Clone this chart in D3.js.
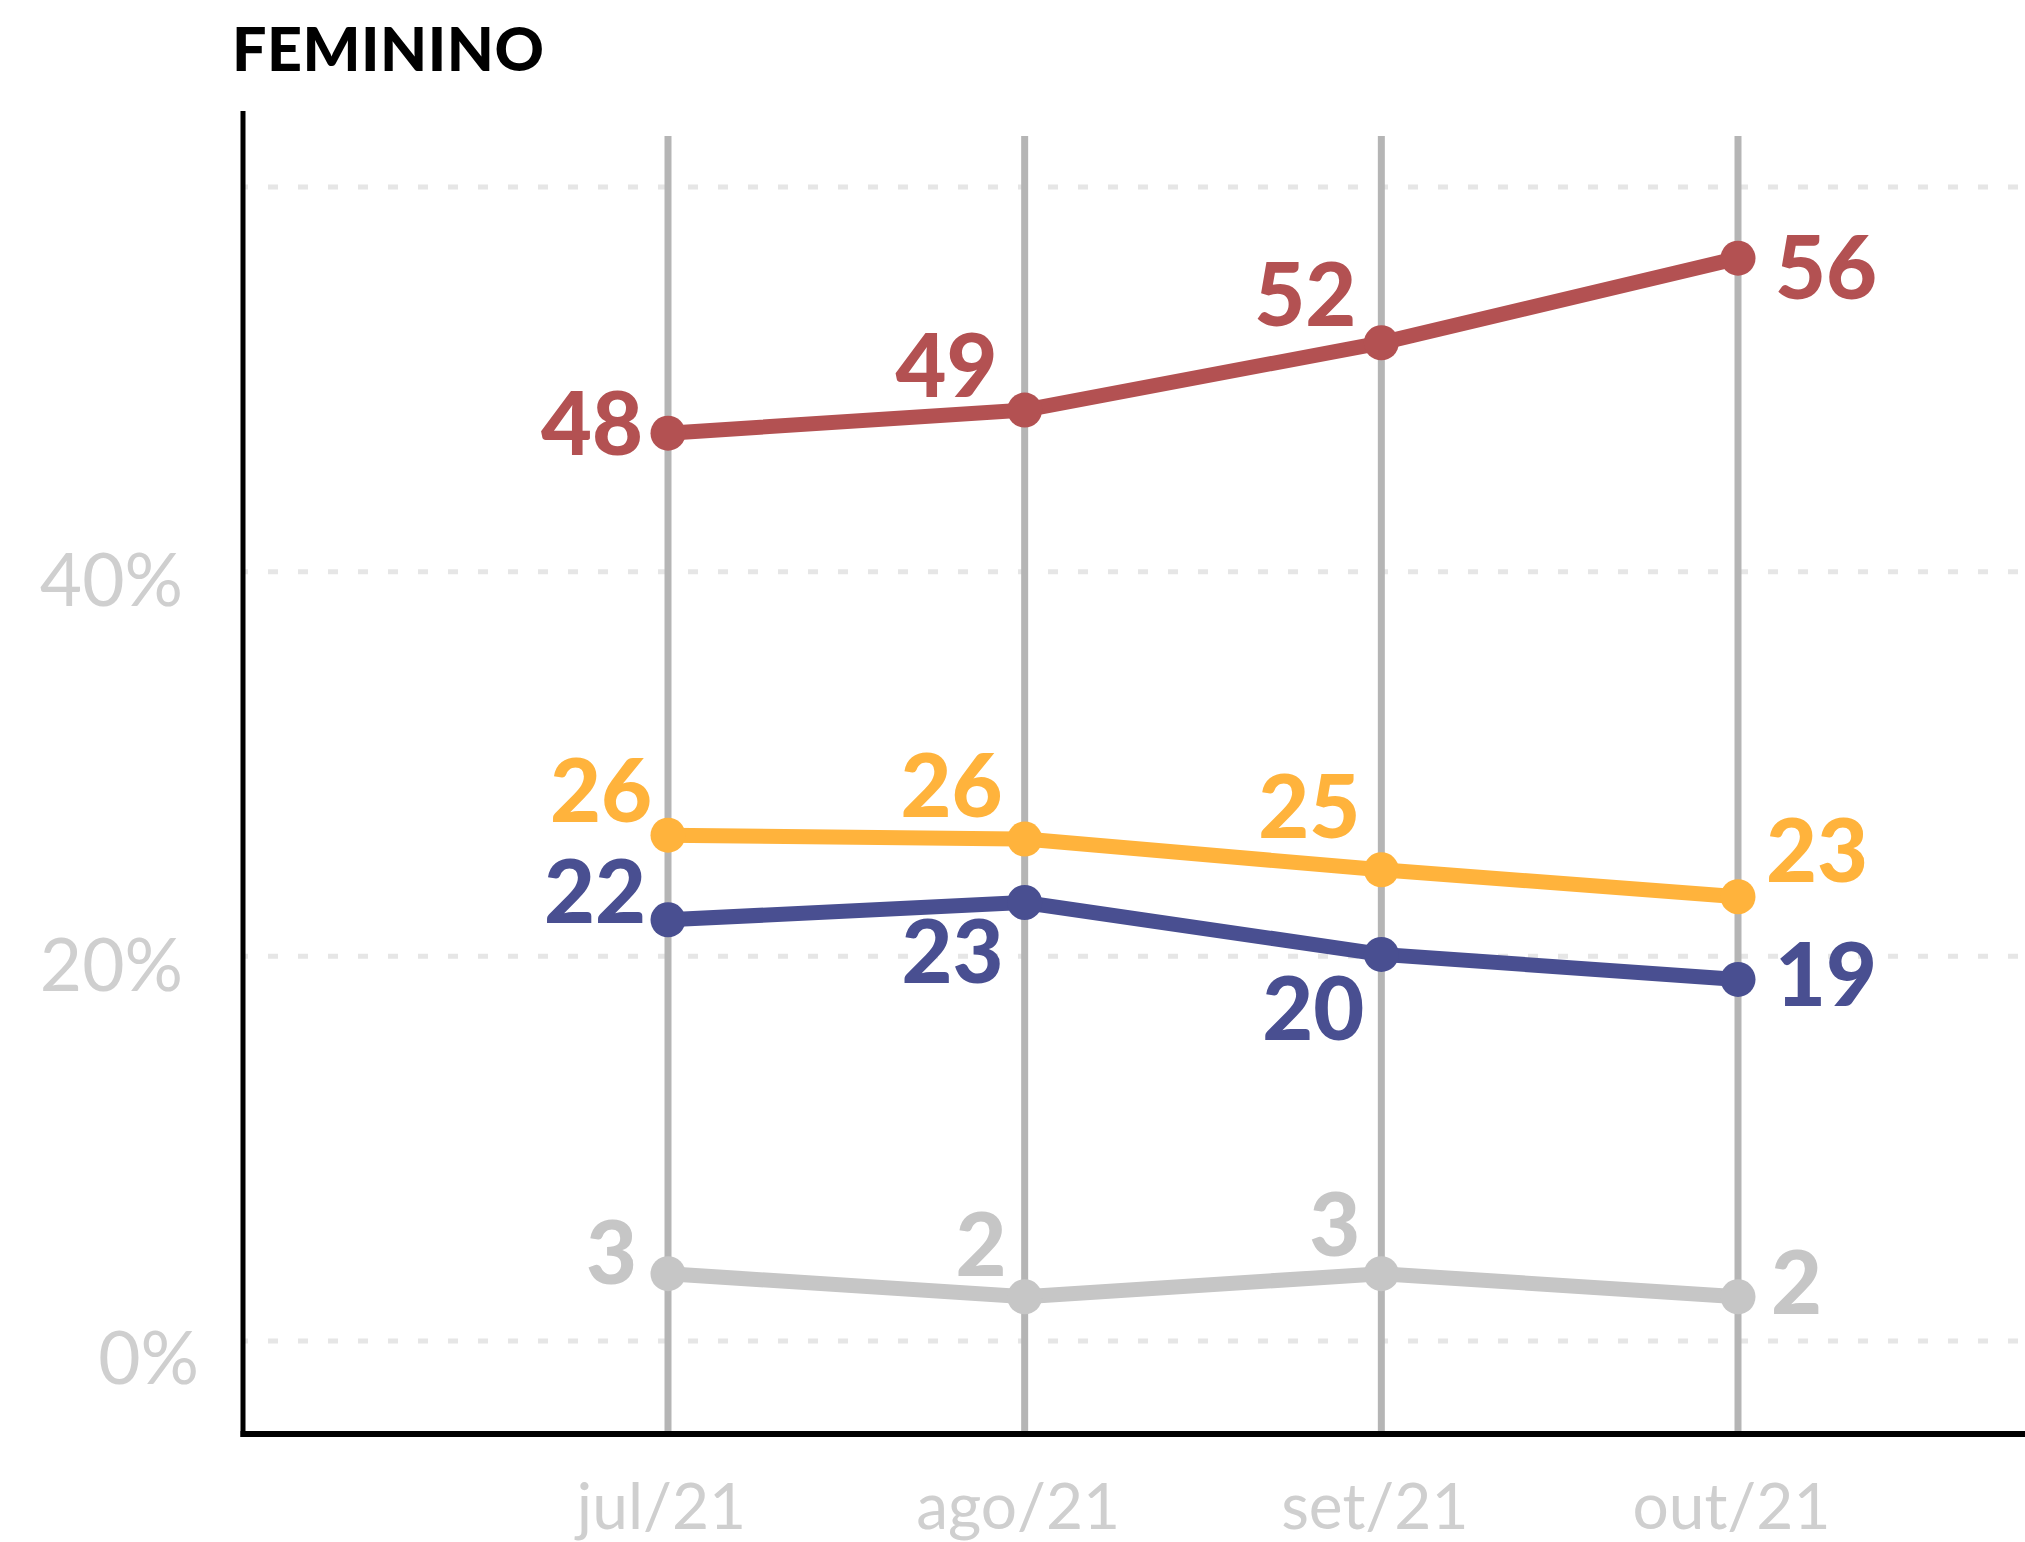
<!DOCTYPE html>
<html>
<head>
<meta charset="utf-8">
<script src="https://cdn.jsdelivr.net/npm/d3@7"></script>
<style>
  html, body { margin: 0; padding: 0; background: #fff; }
  svg { display: block; }
</style>
</head>
<body>
<div id="chart"></div>
<script>
// data
const months = ["jul/21", "ago/21", "set/21", "out/21"];
const yTicks = [0, 20, 40];
const gridValues = [0, 20, 40, 60];

const redValues = [47.2, 48.4, 51.9, 56.3];
const yellowValues = [26.3, 26.1, 24.5, 23.1];
const blueValues = [21.9, 22.8, 20.1, 18.8];
const grayValues = [3.5, 2.3, 3.5, 2.3];

const redLabels = ["48", "49", "52", "56"];
const yellowLabels = ["26", "26", "25", "23"];
const blueLabels = ["22", "23", "20", "19"];
const grayLabels = ["3", "2", "3", "2"];

// label placement: [anchor, dx, dy] relative to the point
const redPlace = [["end", -25, 22], ["end", -27, -13], ["end", -25, -17], ["start", 37, 41]];
const yellowPlace = [["end", -16, -13], ["end", -22, -22], ["end", -21, -32], ["start", 28, -15]];
const bluePlace = [["end", -22, 3], ["end", -21, 81], ["end", -17, 86], ["start", 37, 27]];
const grayPlace = [["end", -31, 10], ["end", -18, -21], ["end", -21, -18], ["start", 33, 17]];

const series = [
  { name: "gray", color: "#c6c6c6", values: grayValues, labels: grayLabels, place: grayPlace },
  { name: "blue", color: "#494f91", values: blueValues, labels: blueLabels, place: bluePlace },
  { name: "yellow", color: "#ffb33c", values: yellowValues, labels: yellowLabels, place: yellowPlace },
  { name: "red", color: "#b35152", values: redValues, labels: redLabels, place: redPlace }
];

const width = 2025;
const height = 1542;
const axisX = 243;
const axisY = 1434;
const font = "Lato, 'Noto Sans', sans-serif";

const svg = d3.select("#chart").append("svg")
    .attr("width", width)
    .attr("height", height);

const x = d3.scalePoint()
    .domain(months)
    .range([668, 1738]);

const y = d3.scaleLinear()
    .domain([0, 60])
    .range([1341, 187]);

// title
svg.append("text")
    .attr("x", 232)
    .attr("y", 71)
    .style("font-family", font)
    .style("font-weight", 900)
    .style("font-size", "61px")
    .style("letter-spacing", "0.5px")
    .style("fill", "#000")
    .text("FEMININO");

// dashed gridlines
svg.append("g")
  .selectAll("line")
  .data(gridValues)
  .enter()
  .append("line")
    .attr("x1", axisX)
    .attr("x2", width)
    .attr("y1", d => y(d))
    .attr("y2", d => y(d))
    .style("stroke", "#e6e6e6")
    .style("stroke-width", 5)
    .style("stroke-dasharray", "10,20")
    .style("stroke-dashoffset", 5);

// vertical month lines
svg.append("g")
  .selectAll("line")
  .data(months)
  .enter()
  .append("line")
    .attr("x1", d => x(d))
    .attr("x2", d => x(d))
    .attr("y1", 136)
    .attr("y2", axisY)
    .style("stroke", "#b5b5b5")
    .style("stroke-width", 7);

// y axis labels
const yAxis = svg.append("g")
    .attr("transform", `translate(${axisX},0)`)
    .call(d3.axisLeft(y).tickValues(yTicks).tickSize(0).tickPadding(60).tickFormat(d => d + "%"));
yAxis.select(".domain").remove();
yAxis.selectAll("text")
    .attr("dy", 34)
    .style("font-family", font)
    .style("font-weight", 400)
    .style("font-size", "73px")
    .style("fill", "#cfcfcf");
yAxis.selectAll(".tick").filter(d => d === 0).select("text")
    .attr("dx", 16)
    .attr("dy", 42);

// x axis labels
const xAxis = svg.append("g")
    .attr("transform", `translate(0,${axisY})`)
    .call(d3.axisBottom(x).tickSize(0));
xAxis.select(".domain").remove();
xAxis.selectAll("text")
    .attr("y", 95)
    .attr("dy", 0)
    .attr("dx", -7)
    .style("font-family", font)
    .style("font-weight", 400)
    .style("font-size", "64px")
    .style("fill", "#cfcfcf");

// black axis lines
svg.append("line")
    .attr("x1", axisX).attr("x2", axisX)
    .attr("y1", 111).attr("y2", axisY + 3)
    .style("stroke", "#000")
    .style("stroke-width", 5);
svg.append("line")
    .attr("x1", axisX - 2.5).attr("x2", width)
    .attr("y1", axisY).attr("y2", axisY)
    .style("stroke", "#000")
    .style("stroke-width", 6);

// lines, dots, labels
const line = d3.line()
    .x((d, i) => x(months[i]))
    .y(d => y(d));

series.forEach(s => {
    const g = svg.append("g").attr("class", "series-" + s.name);

    g.append("path")
        .datum(s.values)
        .attr("d", line)
        .style("fill", "none")
        .style("stroke", s.color)
        .style("stroke-width", 15);

    g.selectAll("circle")
        .data(s.values)
        .enter()
        .append("circle")
        .attr("cx", (d, i) => x(months[i]))
        .attr("cy", d => y(d))
        .attr("r", 17.5)
        .style("fill", s.color);

    g.selectAll("text")
        .data(s.values)
        .enter()
        .append("text")
        .attr("x", (d, i) => x(months[i]) + s.place[i][1])
        .attr("y", (d, i) => y(d) + s.place[i][2])
        .attr("text-anchor", (d, i) => s.place[i][0])
        .style("font-family", font)
        .style("font-weight", 900)
        .style("font-size", "88px")
        .style("fill", s.color)
        .text((d, i) => s.labels[i]);
});
</script>
</body>
</html>
